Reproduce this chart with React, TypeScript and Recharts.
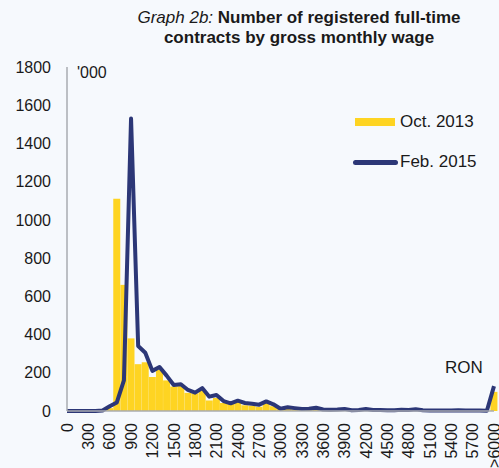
import React from "react";
import { ComposedChart, Bar, Line, XAxis, YAxis } from "recharts";

// wage bands (RON), step of 100, last one open-ended
const wageBands = [
  "0", "100", "200", "300", "400", "500", "600", "700", "800", "900",
  "1000", "1100", "1200", "1300", "1400", "1500", "1600", "1700", "1800", "1900",
  "2000", "2100", "2200", "2300", "2400", "2500", "2600", "2700", "2800", "2900",
  "3000", "3100", "3200", "3300", "3400", "3500", "3600", "3700", "3800", "3900",
  "4000", "4100", "4200", "4300", "4400", "4500", "4600", "4700", "4800", "4900",
  "5000", "5100", "5200", "5300", "5400", "5500", "5600", "5700", "5800", "5900",
  ">6000",
];

const tickLabels = [
  "0", "300", "600", "900", "1200", "1500", "1800", "2100", "2400", "2700",
  "3000", "3300", "3600", "3900", "4200", "4500", "4800", "5100", "5400", "5700",
  ">6000",
];

// thousands of contracts
const oct2013 = [
  0, 0, 0, 0, 0, 0, 15, 1110, 660, 380,
  245, 255, 178, 215, 160, 128, 130, 95, 92, 110,
  55, 68, 42, 40, 48, 30, 28, 22, 42, 25,
  10, 10, 8, 8, 6, 10, 4, 4, 4, 6,
  2, 4, 4, 3, 3, 2, 2, 3, 2, 3,
  2, 2, 1, 1, 1, 2, 1, 1, 1, 1,
  100,
];

const feb2015 = [
  0, 0, 0, 0, 0, 3, 25, 45, 160, 1530,
  340, 305, 210, 230, 185, 136, 140, 110, 96, 120,
  75, 84, 52, 40, 54, 42, 38, 33, 50, 35,
  12, 20, 15, 10, 12, 17, 8, 6, 8, 11,
  4, 5, 10, 5, 5, 4, 4, 7, 5, 9,
  4, 3, 3, 3, 3, 4, 3, 3, 2, 1,
  130,
];

const yTicks = [0, 200, 400, 600, 800, 1000, 1200, 1400, 1600, 1800];

const YELLOW = "#fed422";
const NAVY = "#2c3777";
const FONT = "'Liberation Sans', Arial, sans-serif";

const data = wageBands.map((band, i) => ({
  idx: i,
  band,
  oct2013: oct2013[i],
  feb2015: feb2015[i],
}));

const tickIdx = tickLabels.map((l) => wageBands.indexOf(l));

const XTick = ({ x, y, payload }: any) => {
  const label = wageBands[payload.value];
  return (
    <text
      x={x}
      y={y}
      dy="0.36em"
      transform={`rotate(-90, ${x}, ${y})`}
      textAnchor="end"
      fontSize={16}
      fontFamily={FONT}
      fill="#1a1a1a"
    >
      {label}
    </text>
  );
};

export default function App() {
  return (
    <div
      style={{
        position: "absolute",
        left: 0,
        top: 0,
        width: 499,
        height: 468,
        background: "#f6f9fd",
        fontFamily: FONT,
        overflow: "hidden",
        color: "#1a1a1a",
      }}
    >
      <div
        style={{
          position: "absolute",
          left: 99,
          width: 400,
          top: 8,
          textAlign: "center",
          fontSize: 17,
          lineHeight: "20px",
          fontWeight: "bold",
        }}
      >
        <span style={{ fontStyle: "italic", fontWeight: "normal" }}>Graph 2b:</span> Number of
        registered full-time
        <br />
        contracts by gross monthly wage
      </div>
      <div style={{ position: "absolute", left: 77, top: 64, fontSize: 16 }}>'000</div>
      <div style={{ position: "absolute", left: 445, top: 358, fontSize: 17 }}>RON</div>

      {/* legend */}
      <div style={{ position: "absolute", left: 355, top: 112, fontSize: 17 }}>
        <div style={{ display: "flex", alignItems: "center", height: 20 }}>
          <span
            style={{ display: "inline-block", width: 40, height: 8, background: YELLOW, marginRight: 5 }}
          />
          Oct. 2013
        </div>
        <div style={{ display: "flex", alignItems: "center", height: 20, marginTop: 20 }}>
          <span
            style={{
              display: "inline-block",
              width: 45,
              height: 5,
              borderRadius: 3,
              background: NAVY,
              marginLeft: -2,
              marginRight: 2,
            }}
          />
          Feb. 2015
        </div>
      </div>

      <ComposedChart
        width={499}
        height={468}
        data={data}
        margin={{ top: 67, right: 5, bottom: 27, left: 0 }}
        barCategoryGap={0}
        barGap={0}
        style={{ position: "absolute", left: 0, top: 0 }}
      >
        <XAxis
          type="number"
          dataKey="idx"
          domain={[0, 60]}
          ticks={tickIdx}
          interval={0}
          height={30}
          tick={<XTick />}
          tickLine={false}
          tickSize={0}
          tickMargin={12}
          axisLine={{ stroke: "#a8abb0", strokeWidth: 1.5 }}
        />
        <YAxis
          width={67}
          domain={[0, 1800]}
          ticks={yTicks}
          interval={0}
          tickLine={false}
          tickSize={0}
          tickMargin={16}
          axisLine={{ stroke: "#a8abb0", strokeWidth: 1.5 }}
          tick={{ fontSize: 16, fill: "#1a1a1a", fontFamily: FONT }}
        />
        <Bar dataKey="oct2013" name="Oct. 2013" fill={YELLOW} isAnimationActive={false} />
        <Line
          dataKey="feb2015"
          name="Feb. 2015"
          type="linear"
          stroke={NAVY}
          strokeWidth={4}
          strokeLinejoin="round"
          dot={false}
          activeDot={false}
          isAnimationActive={false}
        />
      </ComposedChart>
    </div>
  );
}
